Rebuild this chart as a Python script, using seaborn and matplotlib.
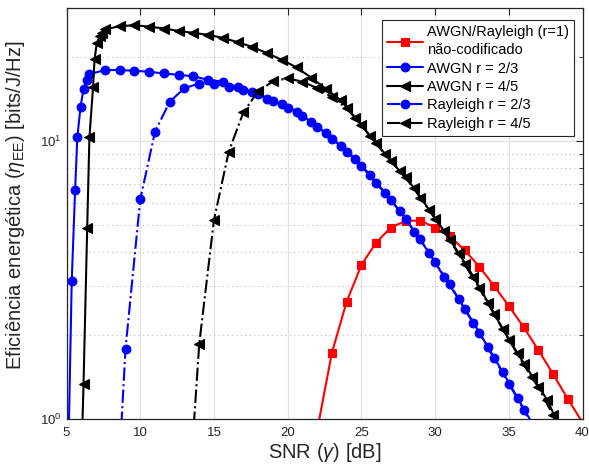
import matplotlib
matplotlib.use('Agg')
import matplotlib.pyplot as plt
import matplotlib.ticker as mticker
import seaborn as sns

# --- DATA ---
# uncoded, AWGN/Rayleigh (r=1)
snr_uncoded = [22, 23, 24, 25, 26, 27, 28, 29, 30, 31, 32, 33, 34, 35, 36, 37, 38, 39, 40]
ee_uncoded = [0.91, 1.73, 2.64, 3.58, 4.31, 4.88, 5.16, 5.17, 4.88, 4.54,
              4.05, 3.53, 3.01, 2.55, 2.14, 1.77, 1.45, 1.18, 0.97]

# AWGN r = 2/3
snr_awgn_23 = [5.15, 5.35, 5.58, 5.73, 5.95, 6.15, 6.37, 6.55,
               7.6, 8.6, 9.6, 10.6, 11.6, 12.6, 13.6, 14.6, 15.6, 16.6,
               17.6, 18.6, 19.6, 20.6, 21.6, 22.6, 23.6, 24.6, 25.6, 26.6,
               27.6, 28.6, 29.6, 30.6, 31.6, 32.6, 33.6, 34.6, 35.6, 36.6]
ee_awgn_23 = [0.9, 3.13, 6.66, 10.3, 13.3, 15.35, 16.6, 17.4,
              18.0, 18.0, 17.9, 17.75, 17.5, 17.3, 17.1, 16.6, 16.35, 15.6,
              15.0, 14.2, 13.55, 12.75, 11.7, 10.7, 9.6, 8.6, 7.55, 6.52,
              5.61, 4.72, 3.95, 3.25, 2.70, 2.22, 1.81, 1.47, 1.19, 0.96]

# AWGN r = 4/5
snr_awgn_45 = [5.95, 6.15, 6.4, 6.55, 6.8, 6.9, 7.05, 7.25, 7.4, 7.6,
               8.6, 9.6, 10.6, 11.6, 12.6, 13.6, 14.6, 15.6, 16.6, 17.6,
               18.6, 19.6, 20.6, 21.6, 22.6, 23.6, 24.6, 25.6, 26.6, 27.6,
               28.6, 29.6, 30.6, 31.6, 32.6, 33.6, 34.6, 35.6, 36.6, 37.6, 38.6]
ee_awgn_45 = [0.55, 1.33, 4.88, 10.3, 15.7, 19.7, 22.5, 23.8, 24.4, 25.2,
              25.9, 26.1, 25.8, 25.4, 24.9, 24.5, 24.1, 23.5, 22.7, 21.8,
              20.7, 19.6, 18.4, 16.9, 15.4, 14.0, 12.1, 10.4, 9.0, 7.8,
              6.75, 5.65, 4.75, 3.95, 3.25, 2.62, 2.10, 1.72, 1.42, 1.17, 0.9]

# Rayleigh r = 2/3
snr_ray_23 = [8, 9, 10, 11, 12, 13, 14, 15, 16, 17, 18, 19, 20, 21, 22,
              23, 24, 25, 26, 27, 28, 29, 30, 31, 32, 33, 34, 35, 36, 37]
ee_ray_23 = [0.19, 1.79, 6.17, 10.8, 13.85, 15.5, 16.1, 16.1, 15.7, 15.3,
             14.76, 13.96, 13.1, 12.3, 11.26, 10.2, 9.15, 8.13, 7.04, 6.13,
             5.23, 4.43, 3.66, 3.06, 2.48, 2.04, 1.65, 1.34, 1.08, 0.87]

# Rayleigh r = 4/5
snr_ray_45 = [13, 14, 15, 16, 17, 18, 19, 20, 21, 22, 23, 24, 25, 26,
              27, 28, 29, 30, 31, 32, 33, 34, 35, 36, 37, 38, 39]
ee_ray_45 = [0.30, 1.86, 5.2, 9.15, 12.7, 15.1, 16.4, 16.8, 16.35, 15.5,
             14.4, 13.1, 11.4, 9.8, 8.45, 7.4, 6.25, 5.25, 4.4, 3.6,
             2.95, 2.38, 1.93, 1.57, 1.30, 1.03, 0.82]

# --- STYLE ---
sns.set_style('white')
plt.rcParams['font.family'] = ['Liberation Sans', 'DejaVu Sans']
plt.rcParams['mathtext.fontset'] = 'custom'
plt.rcParams['mathtext.rm'] = 'Liberation Sans'
plt.rcParams['mathtext.it'] = 'Liberation Sans:italic'

dark = '#262626'

fig = plt.figure(figsize=(5.89, 4.68), dpi=100)
ax = fig.add_axes([0.113, 0.105, 0.876, 0.877])
ax.set_yscale('log')

series = [
    (snr_uncoded, ee_uncoded, 'red', 's', '-', 6, 'AWGN/Rayleigh (r=1)\nnão-codificado'),
    (snr_awgn_23, ee_awgn_23, 'blue', 'o', '-', 6.3, 'AWGN r = 2/3'),
    (snr_awgn_45, ee_awgn_45, 'black', '<', '-', 7.5, 'AWGN r = 4/5'),
    (snr_ray_23, ee_ray_23, 'blue', 'o', '-.', 6.3, 'Rayleigh r = 2/3'),
    (snr_ray_45, ee_ray_45, 'black', '<', '-.', 7.5, 'Rayleigh r = 4/5'),
]
for x, y, col, mk, ls, ms, lab in series:
    sns.lineplot(x=x, y=y, ax=ax, color=col, marker=mk, linestyle=ls,
                 markersize=ms, markeredgecolor=col, markerfacecolor=col,
                 markeredgewidth=0.8, linewidth=1.5, label=lab, sort=False)

ax.set_xlim(5, 40)
ax.set_ylim(1, 30)
ax.xaxis.set_major_locator(mticker.MultipleLocator(5))
ax.yaxis.set_major_locator(mticker.LogLocator(base=10))
ax.yaxis.set_minor_locator(mticker.LogLocator(base=10, subs=range(2, 10)))
ax.yaxis.set_minor_formatter(mticker.NullFormatter())

ax.set_axisbelow(True)
ax.grid(True, which='major', color='#e3e3e3', linestyle='-', linewidth=0.9)
ax.grid(True, which='minor', axis='y', color='#bdbdbd', linestyle=(0, (1, 3)), linewidth=0.8)

ax.tick_params(which='both', direction='in', top=True, right=True, colors=dark,
               labelsize=9.5, labelcolor=dark)
ax.tick_params(which='major', length=5)
ax.tick_params(which='minor', length=3)
ax.tick_params(axis='x', pad=6)
for sp in ax.spines.values():
    sp.set_color(dark)
    sp.set_linewidth(0.9)

ax.set_xlabel(r'SNR ($\gamma$) [dB]', fontsize=14.5, color=dark, labelpad=1)
ax.set_ylabel(r'Eficiência energética ($\eta_{\rm EE}$) [bits/J/Hz]',
              fontsize=14.5, color=dark)
ax.yaxis.set_label_coords(-0.077, 0.521)

leg = ax.legend(loc='upper right', bbox_to_anchor=(0.9835, 0.9715), borderaxespad=0,
                frameon=True, fancybox=False, framealpha=1, edgecolor=dark,
                fontsize=10.5, handlelength=2.45, handletextpad=0.25,
                labelspacing=0.3, borderpad=0.36)
leg.get_frame().set_linewidth(0.8)
for t in leg.get_texts():
    t.set_color('black')
    t.set_linespacing(1.35)

fig.savefig('out.png', dpi=100)
